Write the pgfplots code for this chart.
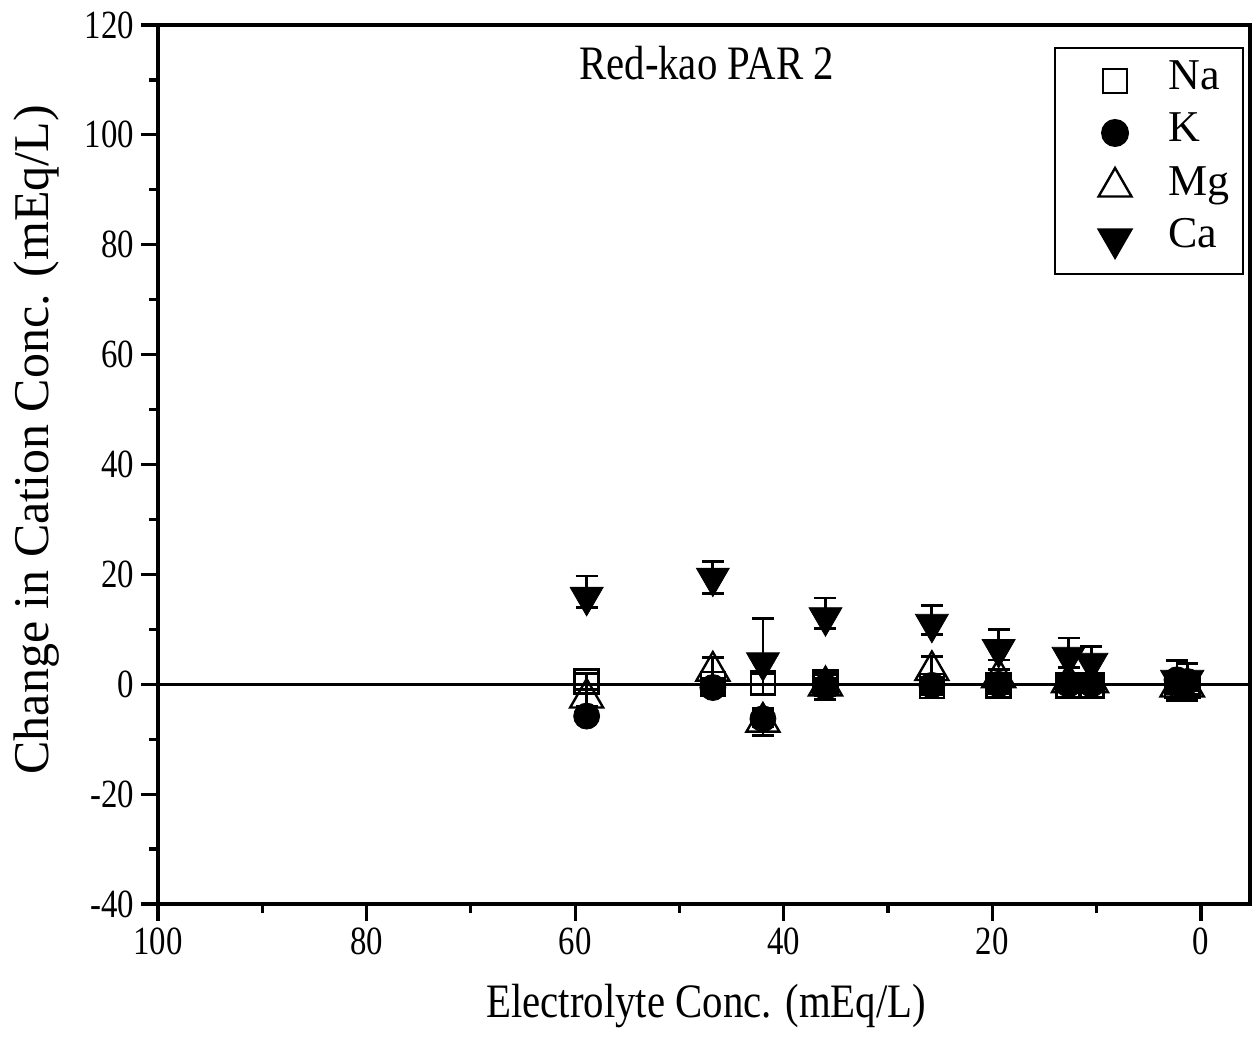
\documentclass[border=0pt]{standalone}
\usepackage{fontspec}
\setmainfont{Liberation Serif}
\newfontfamily\cond{Liberation Serif}[FakeStretch=0.82]
\newfontfamily\condb{Liberation Serif}[FakeStretch=0.85]
\usepackage{pgfplots}
\pgfplotsset{compat=1.18}
\usepackage{pgfplotstable}

% x, y, error plus, error minus
\pgfplotstableread{
x y ep em
58.9 0.5 1.5 1.5
46.8 0.0 1.0 1.0
42.0 0.2 2.0 2.0
36.0 0.3 1.5 1.5
25.8 -0.3 1.5 1.5
19.4 -0.2 1.5 1.5
12.7 -0.2 1.0 1.0
10.5 -0.2 1.0 1.0
2.3 -0.2 1.5 1.5
1.3 -0.3 1.5 1.5
}\na
\pgfplotstableread{
x y ep em
58.9 -5.8 1.0 1.0
46.8 -0.6 1.0 1.0
42.0 -6.3 1.5 1.5
36.0 -0.5 1.5 1.5
25.8 -0.2 1.5 1.5
19.4 0.0 1.5 1.5
12.7 0.0 1.0 1.0
10.5 0.0 1.0 1.0
2.3 0.8 1.5 1.5
1.3 0.5 1.5 1.5
}\kk
\pgfplotstableread{
x y ep em
58.9 -2.5 1.5 1.5
46.8 2.4 2.5 2.5
42.0 -6.9 2.5 2.5
36.0 -0.3 2.5 2.5
25.8 2.5 2.5 2.5
19.4 1.2 1.5 1.5
12.7 0.3 1.5 1.5
10.5 0.3 1.5 1.5
2.3 -0.5 2.5 2.5
1.3 -0.5 2.5 2.5
}\mg
\pgfplotstableread{
x y ep em
58.9 15.9 3.8 2.0
46.8 19.4 2.9 2.9
42.0 4.0 8.0 2.0
36.0 12.2 3.5 2.0
25.8 11.0 3.4 2.0
19.4 6.4 3.6 2.0
12.7 5.0 3.4 2.0
10.5 3.9 3.0 2.0
2.3 0.8 3.5 2.0
1.3 0.8 3.0 2.0
}\ca

\begin{document}
\begin{tikzpicture}
\begin{axis}[
    scale only axis,
    width=546pt, height=439.5pt,
    x dir=reverse,
    xmin=-4.7, xmax=100,
    ymin=-40, ymax=120,
    xtick={0,20,...,100},
    ytick={-40,-20,...,120},
    minor x tick num=1, minor y tick num=1,
    tick align=outside,
    xtick pos=bottom, ytick pos=left,
    major tick length=8.5pt, minor tick length=4.5pt,
    every tick/.style={line width=1.6pt, black},
    axis line style={line width=1.6pt},
    /pgf/number format/assume math mode=true,
    tick label style={font=\cond\fontsize{20}{22}\selectfont},
    xlabel={Electrolyte Conc. (mEq/L)},
    ylabel={Change in Cation Conc. (mEq/L)},
    xlabel style={at={(axis description cs:0.502,-0.091)}, anchor=north,
        inner sep=0pt, font=\condb\fontsize{24}{26}\selectfont},
    ylabel style={at={(axis description cs:-0.132,0.528)}, anchor=north,
        inner sep=0pt, font=\fontsize{25}{27}\selectfont},
    legend style={at={(axis description cs:1,1)}, anchor=north east,
        xshift=-3pt, yshift=-11pt,
        font=\fontsize{22}{24}\selectfont, draw=black, line width=1pt,
        inner xsep=0pt, inner ysep=8pt, row sep=9pt,
        nodes={inner xsep=6.7pt, inner ysep=0pt, text height=13pt, text depth=4pt}},
    legend cell align=left,
    legend image code/.code={
        \path (0pt,0pt) (49pt,0pt);
        \draw[#1] plot coordinates {(29.5pt,0pt)};
    },
    error bars/y dir=both, error bars/y explicit,
    error bars/error bar style={line width=1.4pt, black},
    error bars/error mark options={rotate=90, mark size=5.5pt, line width=1.4pt, black},
]
\addplot[black, line width=1.6pt, forget plot] coordinates {(-4.7,0) (100,0)};
\addplot[only marks, mark=square, mark size=6pt, mark options={line width=1.2pt, black}]
    table[x=x, y=y, y error plus=ep, y error minus=em] {\na};
\addlegendentry{Na}
\addplot[only marks, mark=*, mark size=6.5pt, mark options={black, fill=black}]
    table[x=x, y=y, y error plus=ep, y error minus=em] {\kk};
\addlegendentry{K}
\addplot[only marks, mark=triangle, mark size=9.5pt, mark options={line width=1.2pt, black}]
    table[x=x, y=y, y error plus=ep, y error minus=em] {\mg};
\addlegendentry{Mg}
\addplot[only marks, mark=triangle*, mark size=9.5pt, mark options={rotate=180, black, fill=black}]
    table[x=x, y=y, y error plus=ep, y error minus=em] {\ca};
\addlegendentry{Ca}
\node[font=\condb\fontsize{24}{26}\selectfont, anchor=base] at (axis cs:47.4,110.0) {Red-kao PAR 2};
\end{axis}
\pgfresetboundingbox
\path ([shift={(-79pt,-69pt)}]current axis.south west)
    rectangle ([shift={(2pt,12.5pt)}]current axis.north east);
\end{tikzpicture}
\end{document}
